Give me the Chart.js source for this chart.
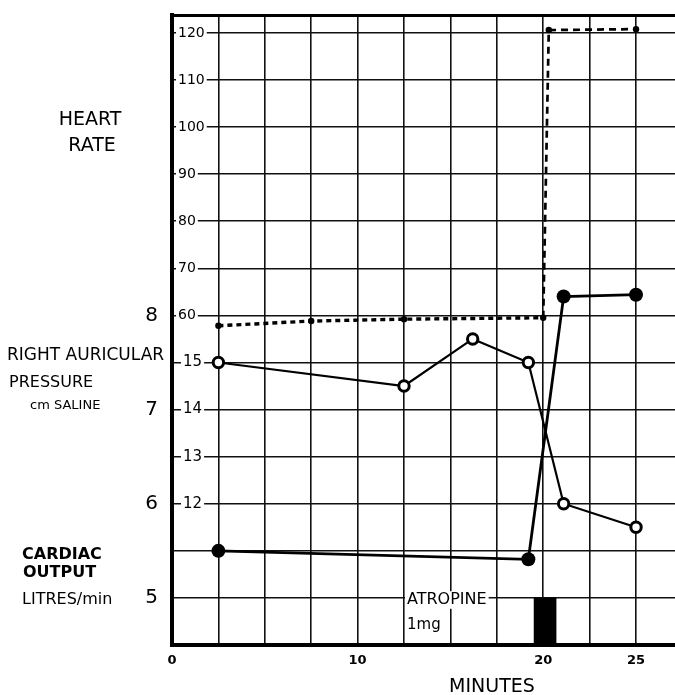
<!DOCTYPE html>
<html>
<head>
<meta charset="utf-8">
<script src="https://cdn.jsdelivr.net/npm/chart.js@4.4.1/dist/chart.umd.min.js"></script>
<style>
  html, body { margin: 0; padding: 0; background: #fff; }
  #wrap { width: 675px; height: 695px; }
</style>
</head>
<body>
<div id="wrap"><canvas id="chart" width="675" height="695"></canvas></div>
<script>
// values (minutes on x)
const hrMinutes   = [2.5, 7.5, 12.5, 20.0, 20.3, 25.0];
const hrRate      = [57.8, 58.8, 59.2, 59.5, 120.6, 120.8];

const rapMinutes  = [2.5, 12.5, 16.2, 19.2, 21.1, 25.0];
const rapCmSaline = [15.0, 14.5, 15.5, 15.0, 12.0, 11.5];

const coMinutes   = [2.5, 19.2, 21.1, 25.0];
const coLitres    = [5.5, 5.41, 8.2, 8.22];

// atropine 1mg given at ~20 min, drawn as a block on the CO scale
const atropineMinute = [20.1];
const atropineBlock  = [[4.5, 5.0]];

const minuteTicks   = [0, 10, 20, 25];
const hrTickLabels  = [60, 70, 80, 90, 100, 110, 120];
const rapTickLabels = [12, 13, 14, 15];
const coTickLabels  = [5, 6, 7, 8];

const FONT = '"DejaVu Sans", "Liberation Sans", sans-serif';
const INK = '#000';

// free text on the figure
const notes = [
  { text: 'HEART', x: 90, y: 120, size: 19, align: 'center' },
  { text: 'RATE', x: 92, y: 146, size: 19, align: 'center' },
  { text: 'RIGHT AURICULAR', x: 7, y: 356, size: 17 },
  { text: 'PRESSURE', x: 9, y: 383, size: 16 },
  { text: 'cm SALINE', x: 30, y: 406, size: 13 },
  { text: 'CARDIAC', x: 22, y: 555, size: 16, bold: true },
  { text: 'OUTPUT', x: 23, y: 573, size: 16, bold: true },
  { text: 'LITRES/min', x: 22, y: 600, size: 16 },
  { text: 'ATROPINE', x: 407, y: 600, size: 16, backdrop: true },
  { text: '1mg', x: 407, y: 625, size: 15 },
  { text: 'MINUTES', x: 492, y: 687, size: 19, align: 'center' }
];

const notesPlugin = {
  id: 'notes',
  afterDraw(chart) {
    const ctx = chart.ctx;
    ctx.save();
    ctx.textBaseline = 'middle';
    notes.forEach(n => {
      ctx.font = (n.bold ? 'bold ' : '') + n.size + 'px ' + FONT;
      ctx.textAlign = n.align || 'left';
      if (n.backdrop) {
        const w = ctx.measureText(n.text).width;
        ctx.fillStyle = '#fff';
        ctx.fillRect(n.x - 2, n.y - n.size * 0.55, w + 4, n.size * 1.1);
      }
      ctx.fillStyle = INK;
      ctx.fillText(n.text, n.x, n.y);
    });
    ctx.restore();
  }
};

const xy = (xs, ys) => xs.map((x, i) => ({ x: x, y: ys[i] }));

// keep the plot box exactly where the figure has it
const pin = (w, h) => s => {
  if (w !== null) s.width = w;
  if (h !== null) s.height = h;
  s.paddingTop = s.paddingBottom = s.paddingLeft = s.paddingRight = 0;
};

new Chart(document.getElementById('chart'), {
  type: 'line',
  data: {
    datasets: [
      {
        label: 'Heart rate',
        yAxisID: 'hr',
        data: xy(hrMinutes, hrRate),
        borderColor: INK,
        borderWidth: 3.4,
        pointRadius: 3.2,
        pointBorderWidth: 0,
        pointBackgroundColor: INK,
        tension: 0,
        segment: {
          borderDash: c => c.p0DataIndex >= 3 ? [7, 5] : [5, 4],
          borderWidth: c => c.p0DataIndex >= 3 ? 2.7 : 3.4
        }
      },
      {
        label: 'Right auricular pressure',
        yAxisID: 'rap',
        data: xy(rapMinutes, rapCmSaline),
        borderColor: INK,
        borderWidth: 2.2,
        pointRadius: 5.2,
        pointBorderWidth: 3,
        pointBorderColor: INK,
        pointBackgroundColor: '#fff',
        tension: 0
      },
      {
        label: 'Cardiac output',
        yAxisID: 'co',
        data: xy(coMinutes, coLitres),
        borderColor: INK,
        borderWidth: 2.8,
        pointRadius: 7,
        pointBorderWidth: 0,
        pointBackgroundColor: INK,
        tension: 0
      },
      {
        type: 'bar',
        label: 'Atropine 1mg',
        yAxisID: 'co',
        data: atropineMinute.map((m, i) => ({ x: m, y: atropineBlock[i] })),
        backgroundColor: INK,
        borderWidth: 0,
        barThickness: 22,
        grouped: false
      }
    ]
  },
  options: {
    responsive: false,
    animation: false,
    layout: { autoPadding: false, padding: { top: 15, left: 0, right: 0, bottom: 0 } },
    plugins: {
      legend: { display: false },
      tooltip: { enabled: false }
    },
    scales: {
      x: {
        type: 'linear',
        position: 'bottom',
        min: 0,
        max: 27.1,
        offset: false,
        grid: { color: '#111', lineWidth: 1.6, drawTicks: false, offset: false },
        border: { color: INK, width: 4 },
        ticks: {
          stepSize: 2.5,
          includeBounds: false,
          autoSkip: false,
          maxRotation: 0,
          padding: 8,
          color: INK,
          font: { family: FONT, size: 13, weight: 'bold' },
          callback: v => minuteTicks.includes(v) ? String(v) : ''
        },
        afterFit: pin(null, 50)
      },
      top: {
        type: 'linear',
        position: 'top',
        min: 0,
        max: 27.1,
        grid: { display: false, drawTicks: false },
        border: { color: INK, width: 3 },
        ticks: { display: false },
        afterFit: pin(null, 0)
      },
      co: {
        type: 'linear',
        position: 'left',
        weight: 2,
        min: 4.5,
        max: 11.19,
        grid: { display: false, drawTicks: false },
        border: { color: INK, width: 4 },
        ticks: {
          stepSize: 1,
          includeBounds: false,
          padding: 14,
          color: INK,
          font: { family: FONT, size: 20 },
          callback: v => coTickLabels.includes(v) ? String(v) : ''
        },
        afterFit: pin(172, null)
      },
      rap: {
        type: 'linear',
        position: 'left',
        weight: 1,
        min: 9,
        max: 22.38,
        grid: { display: false, drawTicks: false },
        border: { display: false },
        ticks: {
          stepSize: 1,
          includeBounds: false,
          mirror: true,
          padding: 11,
          color: INK,
          font: { family: FONT, size: 15 },
          showLabelBackdrop: c => rapTickLabels.includes(c.tick.value),
          backdropColor: '#fff',
          backdropPadding: 2,
          callback: v => rapTickLabels.includes(v) ? String(v) : ''
        },
        afterFit: pin(0, null)
      },
      hr: {
        type: 'linear',
        position: 'left',
        weight: 0,
        min: -10,
        max: 123.8,
        grid: { color: '#111', lineWidth: 1.6, drawTicks: false },
        border: { display: false },
        ticks: {
          stepSize: 10,
          includeBounds: false,
          mirror: true,
          padding: 6,
          color: INK,
          font: { family: FONT, size: 14 },
          showLabelBackdrop: c => hrTickLabels.includes(c.tick.value),
          backdropColor: '#fff',
          backdropPadding: 2,
          callback: v => hrTickLabels.includes(v) ? String(v) : ''
        },
        afterFit: pin(0, null)
      }
    }
  },
  plugins: [notesPlugin]
});
</script>
</body>
</html>
